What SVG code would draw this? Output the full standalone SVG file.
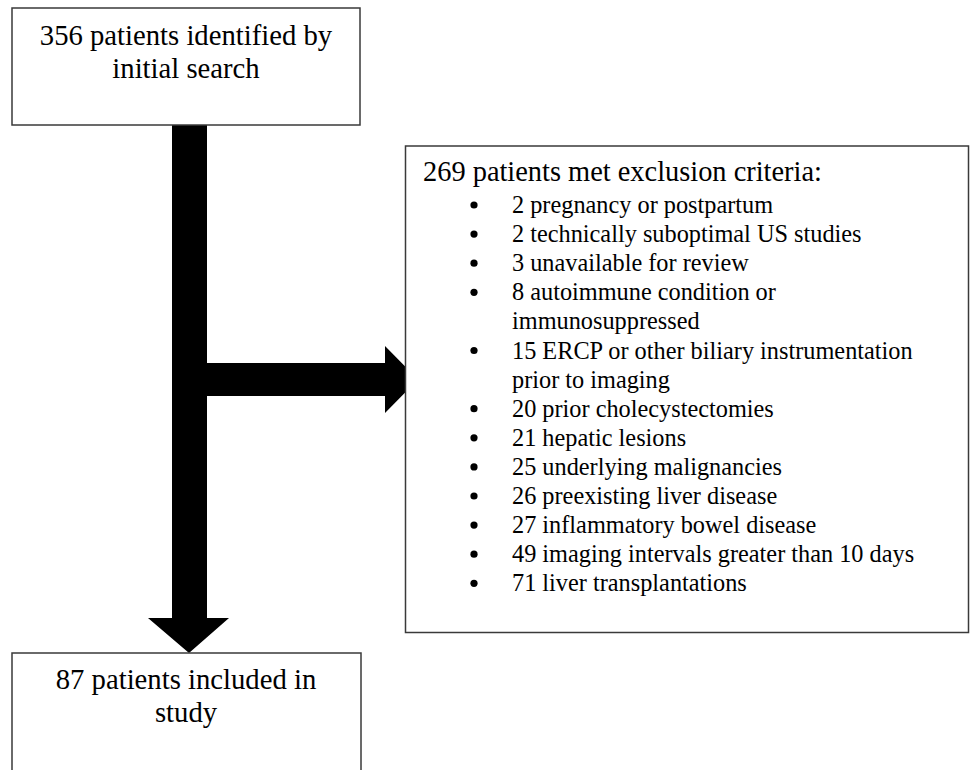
<svg xmlns="http://www.w3.org/2000/svg" width="970" height="770" viewBox="0 0 970 770">
  <style>
    .box { fill: #ffffff; stroke: #3a3a3a; stroke-width: 1.5; }
    .arrow { fill: #000000; }
    .t { font-family: "Liberation Serif", "Times New Roman", serif; fill: #000000; }
    .big { font-size: 28.7px; }
    .mid { font-size: 28.4px; }
    .sm { font-size: 24.3px; }
    .bul { fill: #000000; }
  </style>
  <rect x="0" y="0" width="970" height="770" fill="#ffffff"/>

  <g id="connectors">
    <path class="arrow" d="M172,125 H207 V618 H229 L189,653 L148,618 H172 Z"/>
    <path class="arrow" d="M207,363 H385 V346 L418,379.5 L385,413 V396 H207 Z"/>
  </g>

  <g id="node-identified">
    <rect class="box" x="12" y="8" width="348" height="117"/>
    <text class="t big" x="186" y="45" text-anchor="middle">356 patients identified by</text>
    <text class="t big" x="186" y="78" text-anchor="middle">initial search</text>
  </g>

  <g id="node-excluded">
    <rect class="box" x="405.5" y="146" width="563" height="486.5"/>
    <text class="t mid" x="423" y="181">269 patients met exclusion criteria:</text>
    <circle class="bul" cx="474" cy="205" r="3.6"/>
    <text class="t sm" x="512" y="213">2 pregnancy or postpartum</text>
    <circle class="bul" cx="474" cy="234.1" r="3.6"/>
    <text class="t sm" x="512" y="242.1">2 technically suboptimal US studies</text>
    <circle class="bul" cx="474" cy="263.2" r="3.6"/>
    <text class="t sm" x="512" y="271.2">3 unavailable for review</text>
    <circle class="bul" cx="474" cy="292.3" r="3.6"/>
    <text class="t sm" x="512" y="300.3">8 autoimmune condition or</text>
    <text class="t sm" x="512" y="329.4">immunosuppressed</text>
    <circle class="bul" cx="474" cy="350.5" r="3.6"/>
    <text class="t sm" x="512" y="358.5">15 ERCP or other biliary instrumentation</text>
    <text class="t sm" x="512" y="387.6">prior to imaging</text>
    <circle class="bul" cx="474" cy="408.7" r="3.6"/>
    <text class="t sm" x="512" y="416.7">20 prior cholecystectomies</text>
    <circle class="bul" cx="474" cy="437.8" r="3.6"/>
    <text class="t sm" x="512" y="445.8">21 hepatic lesions</text>
    <circle class="bul" cx="474" cy="466.9" r="3.6"/>
    <text class="t sm" x="512" y="474.9">25 underlying malignancies</text>
    <circle class="bul" cx="474" cy="496" r="3.6"/>
    <text class="t sm" x="512" y="504">26 preexisting liver disease</text>
    <circle class="bul" cx="474" cy="525.1" r="3.6"/>
    <text class="t sm" x="512" y="533.1">27 inflammatory bowel disease</text>
    <circle class="bul" cx="474" cy="554.2" r="3.6"/>
    <text class="t sm" x="512" y="562.2">49 imaging intervals greater than 10 days</text>
    <circle class="bul" cx="474" cy="583.3" r="3.6"/>
    <text class="t sm" x="512" y="591.3">71 liver transplantations</text>
  </g>

  <g id="node-included">
    <rect class="box" x="12" y="653" width="349" height="130"/>
    <text class="t big" x="186" y="689" text-anchor="middle">87 patients included in</text>
    <text class="t big" x="186" y="722" text-anchor="middle">study</text>
  </g>
</svg>
